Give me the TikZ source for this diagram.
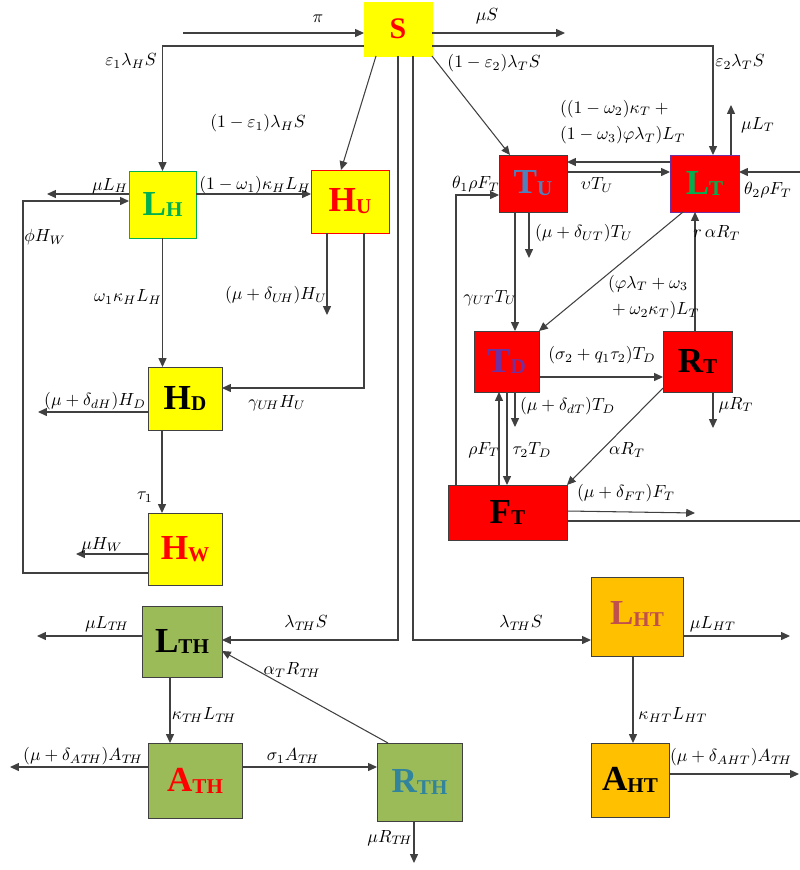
\documentclass[tikz,border=0pt]{standalone}
\usepackage{fontspec}
\setmainfont{Liberation Serif}
\usetikzlibrary{arrows.meta}
\definecolor{yel}{HTML}{FFFF00}
\definecolor{redc}{HTML}{FF0000}
\definecolor{grass}{HTML}{9BBB59}
\definecolor{amber}{HTML}{FFC000}
\definecolor{grn}{HTML}{00B050}
\definecolor{steel}{HTML}{4F81BD}
\definecolor{purp}{HTML}{7030A0}
\definecolor{brick}{HTML}{C0504D}
\definecolor{rthc}{HTML}{31849B}
\definecolor{ink}{HTML}{404040}
\tikzset{
  comp/.style={draw=ink, inner sep=0pt, outer sep=0pt, line width=0.5pt},
  arr/.style={-{Triangle[length=5pt,width=4.5pt]}, draw=ink, line width=0.6pt},
  lin/.style={draw=ink, line width=0.6pt},
  lbl/.style={inner sep=1pt},
}
\newcommand{\cname}[2]{\bfseries\fontsize{20}{20}\selectfont #1\raisebox{-0.12ex}{\fontsize{12}{12}\selectfont #2}}

\begin{document}
\begin{tikzpicture}[x=0.02cm, y=-0.02cm]
  \useasboundingbox (0,0) rectangle (799,870);
  % compartments
  \node[comp, draw=yel, fill=yel, minimum width=1.36cm, minimum height=1.08cm, text=redc] (S) at (398,29) {\bfseries\fontsize{17}{17}\selectfont S};
  \node[comp, fill=yel, draw=grn, minimum width=1.34cm, minimum height=1.34cm, text=grn] (LH) at (162.5,204.5) {\cname{L}{H}};
  \node[comp, fill=yel, draw=redc, minimum width=1.56cm, minimum height=1.26cm, text=redc] (HU) at (350,201.5) {\cname{H}{U}};
  \node[comp, fill=yel, minimum width=1.48cm, minimum height=1.26cm] (HD) at (185,398.5) {\cname{H}{D}};
  \node[comp, fill=yel, minimum width=1.48cm, minimum height=1.44cm, text=redc] (HW) at (185,549) {\cname{H}{W}};
  \node[comp, fill=redc, minimum width=1.36cm, minimum height=1.14cm, text=steel] (TU) at (533,183.5) {\cname{T}{U}};
  \node[comp, fill=redc, draw=purp, minimum width=1.38cm, minimum height=1.14cm, text=grn] (LT) at (704.5,183.5) {\cname{L}{T}};
  \node[comp, fill=redc, minimum width=1.30cm, minimum height=1.22cm, text=purp] (TD) at (506.5,361.5) {\cname{T}{D}};
  \node[comp, fill=redc, minimum width=1.38cm, minimum height=1.22cm] (RT) at (697.5,361.5) {\cname{R}{T}};
  \node[comp, fill=redc, minimum width=2.38cm, minimum height=1.10cm] (FT) at (507.5,512.5) {\cname{F}{T}};
  \node[comp, fill=grass, minimum width=1.60cm, minimum height=1.42cm] (LTH) at (182,641.5) {\cname{L}{TH}};
  \node[comp, fill=grass, minimum width=1.88cm, minimum height=1.50cm, text=redc] (ATH) at (195,780.5) {\cname{A}{TH}};
  \node[comp, fill=grass, minimum width=1.70cm, minimum height=1.56cm, text=rthc] (RTH) at (419.5,782) {\cname{R}{TH}};
  \node[comp, fill=amber, minimum width=1.84cm, minimum height=1.58cm, text=brick] (LHT) at (637,616.5) {\raisebox{4pt}{\cname{L}{HT}}};
  \node[comp, fill=amber, minimum width=1.56cm, minimum height=1.48cm] (AHT) at (630,780) {\cname{A}{HT}};

  % free ends
  \coordinate (pin) at (183,33);
  \coordinate (muS) at (565,33);
  \coordinate (muLH) at (47,194);
  \coordinate (dHU) at (327,315);
  \coordinate (dHD) at (38,412);
  \coordinate (muHW) at (76,554);
  \coordinate (muLT) at (731,105);
  \coordinate (dTU) at (529,258);
  \coordinate (dTD) at (515,427);
  \coordinate (muRT) at (713,428);
  \coordinate (dFT) at (695,513);
  \coordinate (muLTH) at (37,636);
  \coordinate (dATH) at (10,767);
  \coordinate (muRTH) at (414,863);
  \coordinate (muLHT) at (790,636);
  \coordinate (dAHT) at (799,774);

  % susceptible flows
  \draw[arr] (pin) -- (S.west |- 0,33);
  \draw[arr] (S.east |- 0,33) -- (muS);
  \draw[arr] (S.west |- 0,46) -| (LH.north);
  \draw[arr] (S.east |- 0,46) -| (LT.north -| 713,0);
  \draw[arr] (S.south -| 376,0) -- (HU.north -| 341,0);
  \draw[arr] (S.south east) -- (TU.north -| 510,0);
  \draw[arr] (S.south) |- (LTH.east |- 0,640);
  \draw[arr] (S.south -| 413,0) |- (LHT.west |- 0,640);

  % HIV block
  \draw[arr] (LH.east |- 0,194) -- (HU.west |- 0,194);
  \draw[arr] (LH.west |- 0,194) -- (muLH);
  \draw[arr] (HW.west |- 0,573) -| (23,201) -- (LH.west |- 0,201);
  \draw[arr] (LH.south) -- (HD.north -| LH.south);
  \draw[arr] (HU.south -| dHU) -- (dHU);
  \draw[arr] (HU.south -| 364,0) |- (HD.east |- 0,388);
  \draw[arr] (HD.west |- dHD) -- (dHD);
  \draw[arr] (HD.south -| 162,0) -- (HW.north -| 162,0);
  \draw[arr] (HW.west |- muHW) -- (muHW);

  % TB block
  \draw[arr] (LT.west |- 0,162) -- (TU.east |- 0,162);
  \draw[arr] (TU.east |- 0,172) -- (LT.west |- 0,172);
  \draw[arr] (LT.north -| muLT) -- (muLT);
  \draw[arr] (FT.east |- 0,521) -- (802,521) -- (802,172) -- (LT.east |- 0,172);
  \draw[arr] (FT.north -| 456,0) |- (TU.west |- 0,195);
  \draw[arr] (TU.south -| dTU) -- (dTU);
  \draw[arr] (TU.south -| 515,0) -- (TD.north -| 515,0);
  \draw[arr] (LT.south -| 683,0) -- (TD.north east);
  \draw[arr] (TD.east |- 0,377) -- (RT.west |- 0,377);
  \draw[arr] (RT.north -| 695,0) -- (LT.south -| 695,0);
  \draw[arr] (RT.south -| muRT) -- (muRT);
  \draw[arr] (RT.west |- 0,388) -- (FT.north east);
  \draw[arr] (TD.south -| dTD) -- (dTD);
  \draw[arr] (TD.south -| 507,0) -- (FT.north -| 507,0);
  \draw[arr] (FT.north -| 499,0) -- (TD.south -| 499,0);
  \draw[arr] (FT.east |- 0,511) -- (dFT);

  % co-infection block
  \draw[arr] (LTH.west |- muLTH) -- (muLTH);
  \draw[arr] (LTH.south -| 170,0) -- (ATH.north -| 170,0);
  \draw[arr] (ATH.west |- dATH) -- (dATH);
  \draw[arr] (ATH.east |- 0,767) -- (RTH.west |- 0,767);
  \draw[arr] (RTH.north -| 388,0) -- (LTH.east |- 0,651);
  \draw[arr] (RTH.south -| muRTH) -- (muRTH);
  \draw[arr] (LHT.east |- muLHT) -- (muLHT);
  \draw[arr] (LHT.south -| 633,0) -- (AHT.north -| 633,0);
  \draw[arr] (AHT.east |- dAHT) -- (dAHT);

  % rates
  \node[lbl] (tpi) at (318,19) {$\pi$};
  \node[lbl] (tmuS) at (487,16) {$\mu S$};
  \node[lbl] (tinLH) at (131,61) {$\varepsilon_1\lambda_H S$};
  \node[lbl] (tinLT) at (740,62) {$\varepsilon_2\lambda_T S$};
  \node[lbl] (tinHU) at (258,123) {$(1-\varepsilon_1)\lambda_H S$};
  \node[lbl] (tinTU) at (494,63) {$(1-\varepsilon_2)\lambda_T S$};
  \node[lbl] (tinLTH) at (306,623) {$\lambda_{T\!H} S$};
  \node[lbl] (tinLHT) at (521,623) {$\lambda_{T\!H} S$};
  \node[lbl] (tLHHU) at (255,185) {$(1-\omega_1)\kappa_H L_H$};
  \node[lbl] (tmuLH) at (110,186) {$\mu L_H$};
  \node[lbl] (tphi) at (45,237) {$\phi H_W$};
  \node[lbl] (tLHHD) at (128,297) {$\omega_1\kappa_H L_H$};
  \node[lbl] (tdHU) at (276,295) {$(\mu+\delta_{U\!H})H_U$};
  \node[lbl] (tHUHD) at (277,403) {$\gamma_{U\!H} H_U$};
  \node[lbl] (tdHD) at (95,401) {$(\mu+\delta_{dH})H_D$};
  \node[lbl] (ttau1) at (145,497) {$\tau_1$};
  \node[lbl] (tmuHW) at (102,545) {$\mu H_W$};
  \node[lbl, align=left, anchor=west] (tLTTU) at (558,122) {$((1-\omega_2)\kappa_T+{}$\\[3pt]$(1-\omega_3)\varphi\lambda_T)L_T$};
  \node[lbl] (tTULT) at (597,185) {$\upsilon T_U$};
  \node[lbl] (tmuLT) at (758,125) {$\mu L_T$};
  \node[lbl] (tth2) at (768,190) {$\theta_2\rho F_T$};
  \node[lbl] (tth1) at (476,184) {$\theta_1\rho F_T$};
  \node[lbl, anchor=west] (tdTU) at (533,233) {$(\mu+\delta_{UT})T_U$};
  \node[lbl] (tTUTD) at (490,298) {$\gamma_{UT} T_U$};
  \node[lbl, align=left, anchor=west] (tLTTD) at (606,297) {$(\varphi\lambda_T+\omega_3$\\[3pt]${}+\omega_2\kappa_T)L_T$};
  \node[lbl] (tTDRT) at (602,355) {$(\sigma_2+q_1\tau_2)T_D$};
  \node[lbl] (tRTLT) at (717,233) {$r\,\alpha R_T$};
  \node[lbl] (tmuRT) at (736,405) {$\mu R_T$};
  \node[lbl] (tRTFT) at (627,450) {$\alpha R_T$};
  \node[lbl, anchor=west] (tdTD) at (518,406) {$(\mu+\delta_{dT})T_D$};
  \node[lbl] (tTDFT) at (532,450) {$\tau_2 T_D$};
  \node[lbl] (tFTTD) at (484,450) {$\rho F_T$};
  \node[lbl] (tdFT) at (626,493) {$(\mu+\delta_{FT})F_T$};
  \node[lbl] (tmuLTH) at (107,624) {$\mu L_{T\!H}$};
  \node[lbl] (tLTHATH) at (204,715) {$\kappa_{T\!H} L_{T\!H}$};
  \node[lbl] (tdATH) at (83,756) {$(\mu+\delta_{AT\!H})A_{T\!H}$};
  \node[lbl] (tATHRTH) at (293,756) {$\sigma_1 A_{T\!H}$};
  \node[lbl] (tRTHLTH) at (292,670) {$\alpha_T R_{T\!H}$};
  \node[lbl] (tmuRTH) at (390,838) {$\mu R_{T\!H}$};
  \node[lbl] (tmuLHT) at (713,624) {$\mu L_{HT}$};
  \node[lbl] (tLHTAHT) at (673,715) {$\kappa_{HT} L_{HT}$};
  \node[lbl] (tdAHT) at (731,757) {$(\mu+\delta_{AHT})A_{T\!H}$};
\end{tikzpicture}
\end{document}
